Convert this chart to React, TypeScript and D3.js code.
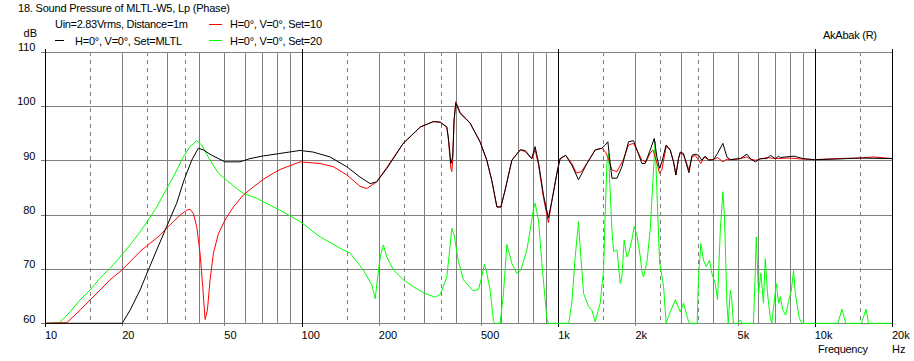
import React, { useLayoutEffect, useRef } from "react";
import * as d3 from "d3";

const title = "18. Sound Pressure of MLTL-W5, Lp (Phase)";
const legendInfo = "Uin=2.83Vrms, Distance=1m";
const seriesNames = ["H=0°, V=0°, Set=MLTL", "H=0°, V=0°, Set=10", "H=0°, V=0°, Set=20"];
const yTicks = [60, 70, 80, 90, 100, 110];
const xTickValues = [10, 20, 50, 100, 200, 500, 1000, 2000, 5000, 10000, 20000];
const xTickLabels = ["10", "20", "50", "100", "200", "500", "1k", "2k", "5k", "10k", "20k"];
const gridMultipliers = [1.5, 2, 2.5, 3, 3.5, 4, 5, 6, 7, 8, 9];
const dashedMultipliers = [1.5, 2.5, 3.5];
const decades = [10, 100, 1000, 10000];

// [frequency Hz, dB]
const mltl: [number, number][] = [
  [10, 60], [20, 60], [21.45, 62.4], [23.46, 66.1], [25.27, 69.8], [27.26, 73.5], [29.8, 77.8], [32.6, 82.1],
  [34.8, 86.3], [37.3, 90.0], [39.6, 92.2], [41.4, 91.9], [44.7, 90.9], [50.3, 89.7], [57.5, 89.7], [63, 90.3],
  [71, 90.8], [81.2, 91.2], [98.7, 91.8], [111, 91.5], [129, 90.6], [150, 88.8], [169, 86.9], [185, 85.7],
  [196, 86.0], [215, 88.5], [249, 93.1], [290, 96.1], [326, 97.1], [347, 97.0], [368, 96.1], [373, 94.3],
  [382, 89.4], [388, 90.6], [393, 97.4], [399, 100.5], [415, 98.6], [454, 96.8], [497, 93.3], [527, 90.0],
  [551, 86.3], [577, 81.4], [598, 81.4], [621, 84.5], [660, 90.0], [711, 91.9], [743, 91.8], [789, 90.3],
  [813, 92.5], [838, 89.6], [877, 83.5], [916, 79.4], [944, 82.4], [994, 88.2], [1018, 90.3], [1070, 90.9],
  [1130, 89.1], [1200, 86.4], [1294, 89.4], [1394, 91.9], [1480, 92.2], [1525, 92.8], [1562, 93.4], [1595, 89.4],
  [1620, 86.7], [1695, 86.7], [1772, 88.8], [1880, 93.4], [1967, 93.6], [2027, 91.9], [2120, 89.4], [2183, 89.4],
  [2284, 91.9], [2368, 94.0], [2425, 90.6], [2484, 88.5], [2537, 89.7], [2635, 92.8], [2733, 91.9], [2815, 89.7],
  [2876, 87.3], [2944, 90.3], [2990, 91.5], [3079, 91.25], [3155, 89.4], [3233, 87.7], [3323, 90.9], [3420, 91.1],
  [3524, 90.9], [3632, 90.0], [3743, 90.75], [3856, 90.0], [4030, 90.1], [4178, 91.25], [4384, 93.1], [4546, 90.6],
  [4686, 90.1], [5125, 90.3], [5443, 91.1], [5608, 90.3], [5866, 89.7], [6135, 90.3], [6510, 90.3], [6711, 90.9],
  [7021, 90.3], [7234, 90.75], [7340, 90.5], [8300, 90.75], [9000, 90.3], [10000, 90.1], [12000, 90.2],
  [15000, 90.4], [20000, 90.3],
];

const set10: [number, number][] = [
  [10, 60], [12.15, 60.1], [13.69, 62.4], [14.97, 64.3], [16.38, 66.1], [17.92, 68.0], [19.6, 69.5], [21.45, 71.3],
  [23.46, 73.2], [25.66, 74.7], [28.07, 76.2], [29.8, 77.5], [31.65, 78.7], [33.6, 79.9], [35.67, 80.8], [36.75, 81.0],
  [37.86, 80.2], [39.02, 77.8], [40.2, 72.9], [41.2, 66.7], [42.06, 60.7], [42.94, 62.4], [44.0, 68.0], [45.33, 72.9],
  [47.41, 76.5], [50.3, 79.0], [54.2, 81.4], [59.3, 83.6], [64.9, 85.1], [71, 86.5], [77.6, 87.6], [82.5, 88.3],
  [98.7, 89.7], [118, 89.4], [133, 88.8], [150, 87.3], [169, 85.2], [179.5, 84.8], [196, 86.0], [215, 88.7],
  [249, 93.1], [290, 96.1], [326, 97.1], [347, 97.0], [368, 96.1], [373, 94.0], [382, 88.5], [385, 87.9],
  [388, 90.0], [393, 97.4], [399, 100.8], [415, 98.8], [454, 96.8], [497, 93.3], [527, 90.0], [551, 86.3],
  [577, 81.4], [598, 81.4], [621, 84.5], [660, 90.0], [711, 91.9], [743, 91.6], [789, 90.3], [813, 91.9],
  [838, 89.2], [877, 83.0], [916, 78.5], [944, 82.4], [994, 88.2], [1018, 90.3], [1070, 90.9], [1130, 89.4],
  [1180, 87.6], [1230, 87.9], [1294, 89.4], [1394, 91.9], [1480, 92.2], [1530, 91.5], [1570, 90.3], [1620, 88.2],
  [1695, 87.9], [1790, 90.0], [1880, 92.8], [1967, 93.1], [2027, 91.9], [2120, 90.0], [2200, 89.7], [2284, 91.3],
  [2340, 91.9], [2425, 89.5], [2484, 87.6], [2537, 88.3], [2635, 92.5], [2733, 91.9], [2815, 89.7], [2876, 87.3],
  [2944, 90.3], [2990, 91.3], [3079, 91.0], [3155, 89.7], [3233, 88.2], [3323, 90.6], [3420, 90.9], [3524, 90.0],
  [3600, 89.4], [3700, 90.6], [3856, 90.1], [4030, 90.1], [4178, 90.5], [4384, 89.7], [4546, 90.2], [4686, 90.1],
  [5125, 90.3], [5443, 90.6], [5608, 90.2], [5866, 90.0], [6135, 90.2], [6510, 90.5], [7021, 90.3], [8000, 90.4],
  [9000, 90.2], [10000, 90.1], [12000, 90.3], [15000, 90.4], [17000, 90.6], [20000, 90.3],
];

const set20: [number, number][] = [
  [10, 60], [11.4, 60.1], [12.52, 62.1], [13.69, 64.3], [14.97, 66.1], [16.38, 68.3], [17.92, 70.1], [19.6, 72.2],
  [21.45, 74.4], [23.46, 76.8], [25.27, 79.0], [27.26, 81.4], [28.9, 83.6], [31.6, 86.9], [34.6, 90.6], [36.75, 92.5],
  [39.02, 93.6], [40.8, 92.8], [44.0, 90.0], [47.41, 87.6], [51.1, 86.3], [55.9, 84.8], [59.3, 83.9], [66.9, 83.0],
  [75.4, 81.7], [82.5, 80.8], [98.7, 78.7], [118, 75.9], [141.3, 73.8], [154.6, 72.9], [174, 69.8], [188, 67.0],
  [193.6, 64.5], [199.4, 69.8], [203, 72.5], [208.4, 74.4], [214.8, 72.2], [221.4, 71.0], [228, 69.8], [249.4, 68.0],
  [273, 66.7], [298.5, 65.6], [331, 64.8], [347, 65.3], [368, 68.5], [379, 74.1], [385, 77.5], [393.3, 76.2],
  [408, 71.5], [427.5, 68.0], [465, 66.0], [489, 66.2], [504, 68.6], [516, 70.9], [527, 69.2], [543, 66.1],
  [560, 60.3], [568, 60], [594, 60], [612, 65.5], [621, 69.8], [631, 74.5], [650, 72.2], [660, 71.0],
  [690, 69.2], [716, 69.8], [755, 73.5], [778, 77.2], [801, 81.0], [813, 82.1], [838, 79.0], [864, 71.0],
  [903, 61.0], [916, 60], [1100, 60], [1130, 63.7], [1165, 72.2], [1200, 78.7], [1218, 74.1], [1256, 65.5],
  [1313, 63.1], [1353, 62.4], [1394, 60.3], [1458, 63.7], [1503, 69.8], [1525, 80.2], [1549, 89.4], [1570, 91.25],
  [1620, 77.2], [1644, 73.2], [1695, 73.5], [1745, 67.35], [1772, 68.6], [1808, 75.3], [1852, 72.2], [1880, 72.9],
  [1937, 75.3], [1978, 77.8], [2027, 76.2], [2090, 72.2], [2120, 69.5], [2150, 68.5], [2218, 71.3], [2284, 77.2],
  [2340, 86.3], [2388, 93.5], [2425, 84.5], [2484, 71.3], [2576, 66.7], [2635, 60], [2733, 62.1], [2861, 64.3],
  [2990, 62.1], [3079, 63.7], [3222, 60.3], [3260, 60], [3480, 60], [3524, 68.6], [3598, 74.7], [3684, 71.6],
  [3775, 70.4], [3889, 71.6], [3972, 69.2], [4092, 67.35], [4178, 64.3], [4285, 77.2], [4384, 84.2], [4448, 79.6],
  [4546, 63.7], [4600, 60], [4686, 66.1], [4750, 64.3], [4822, 60], [5000, 60], [5125, 60.6], [5200, 60],
  [5770, 60], [5866, 69.8], [5916, 75.9], [6037, 65.5], [6166, 69.2], [6310, 63.7], [6412, 71.9], [6545, 65.5],
  [6711, 60.9], [6800, 60], [7080, 67.3], [7234, 63.7], [7340, 64.9], [7500, 62.5], [7700, 61.5], [7900, 64],
  [8100, 66], [8266, 69.7], [8400, 65.5], [8700, 61], [8900, 60], [12300, 60], [12770, 62.6], [13200, 60],
  [15200, 60], [15850, 62.6], [16200, 60], [20000, 60],
];

const W = 914;
const H = 361;
const LEFT = 45;
const RIGHT = 892;
const TOP = 51.5;
const BOTTOM = 323.3;
const FONT = "Liberation Sans, Arial, sans-serif";

function FitText(props: { x: number; y: number; width: number; children: string }) {
  const ref = useRef<SVGTextElement>(null);
  useLayoutEffect(() => {
    const el = ref.current;
    if (!el) return;
    el.style.letterSpacing = "0px";
    const w = el.getComputedTextLength();
    const n = props.children.length;
    if (n > 1) el.style.letterSpacing = (props.width - w) / (n - 1) + "px";
  }, [props.children, props.width]);
  return (
    <text ref={ref} x={props.x} y={props.y} fill="#000">
      {props.children}
    </text>
  );
}

export default function App() {
  const x = d3.scaleLog().domain([10, 20000]).range([LEFT, RIGHT]);
  const y = d3.scaleLinear().domain([60, 110]).range([BOTTOM, TOP]);
  const line = d3
    .line<[number, number]>()
    .x((d) => x(d[0]))
    .y((d) => y(Math.max(60, Math.min(110, d[1]))));

  const grid: { f: number; dashed: boolean }[] = [];
  decades.forEach((dec) => {
    gridMultipliers.forEach((m) => {
      const f = dec * m;
      if (f < 20000) grid.push({ f, dashed: dashedMultipliers.includes(m) });
    });
  });
  const majors = [100, 1000, 10000];
  const rx = (v: number) => Math.round(v) + 0.5;

  return (
    <svg
      width={W}
      height={H}
      style={{ position: "absolute", left: 0, top: 0, background: "#fff" }}
      fontFamily={FONT}
      fontSize={11}
    >
      <rect x={0} y={0} width={W} height={H} fill="#fff" />
      <FitText x={18} y={12} width={212}>{title}</FitText>
      <FitText x={55} y={28} width={133}>{legendInfo}</FitText>
      <line x1={55} x2={64} y1={40.5} y2={40.5} stroke="#000" />
      <FitText x={75} y={45} width={107}>{seriesNames[0]}</FitText>
      <line x1={209} x2={222} y1={24.5} y2={24.5} stroke="#ff0000" />
      <FitText x={230} y={28} width={92}>{seriesNames[1]}</FitText>
      <line x1={209} x2={222} y1={40.5} y2={40.5} stroke="#00ff00" />
      <FitText x={230} y={45} width={92}>{seriesNames[2]}</FitText>
      <text x={37} y={37} textAnchor="end" fill="#000">dB</text>
      <FitText x={823} y={38.5} width={54}>AkAbak (R)</FitText>

      {/* vertical grid */}
      {grid.map((g, i) => (
        <line
          key={"g" + i}
          x1={rx(x(g.f))}
          x2={rx(x(g.f))}
          y1={TOP}
          y2={BOTTOM}
          stroke={majors.includes(g.f) ? "#000" : "#808080"}
          strokeDasharray={g.dashed ? "4,4" : undefined}
          shapeRendering="crispEdges"
        />
      ))}
      {/* horizontal grid */}
      {yTicks.map((t) => (
        <g key={"h" + t}>
          <line x1={LEFT} x2={RIGHT} y1={rx(y(t))} y2={rx(y(t))} stroke="#808080" shapeRendering="crispEdges" />
          <line x1={41} x2={LEFT} y1={rx(y(t))} y2={rx(y(t))} stroke="#808080" shapeRendering="crispEdges" />
          <text x={35.5} y={y(t) - 0.5} textAnchor="end" fill="#000">{t}</text>
        </g>
      ))}
      {/* x ticks below */}
      {xTickValues.map((v, i) => (
        <g key={"x" + v}>
          <line
            x1={rx(x(v))}
            x2={rx(x(v))}
            y1={BOTTOM}
            y2={BOTTOM + 3}
            stroke={[10, 100, 1000, 10000, 20000].includes(v) ? "#000" : "#808080"}
            shapeRendering="crispEdges"
          />
          <text x={x(v)} y={339} fill="#000">{xTickLabels[i]}</text>
        </g>
      ))}
      {/* major decade lines extended */}
      {[10, 100, 1000, 10000, 20000].map((v) => (
        <line
          key={"m" + v}
          x1={rx(x(v))}
          x2={rx(x(v))}
          y1={TOP - 3}
          y2={BOTTOM + 4}
          stroke="#000"
          shapeRendering="crispEdges"
        />
      ))}
      <FitText x={818} y={353} width={50}>Frequency</FitText>
      <text x={892} y={353} fill="#000">Hz</text>

      <defs>
        <clipPath id="plot">
          <rect x={LEFT} y={TOP - 1} width={RIGHT - LEFT + 1} height={BOTTOM - TOP + 2} />
        </clipPath>
      </defs>
      <g clipPath="url(#plot)" fill="none" strokeWidth={1}>
        <path d={line(set20) || ""} stroke="#00ff00" />
        <path d={line(set10) || ""} stroke="#ff0000" />
        <path d={line(mltl) || ""} stroke="#000" />
      </g>
    </svg>
  );
}
